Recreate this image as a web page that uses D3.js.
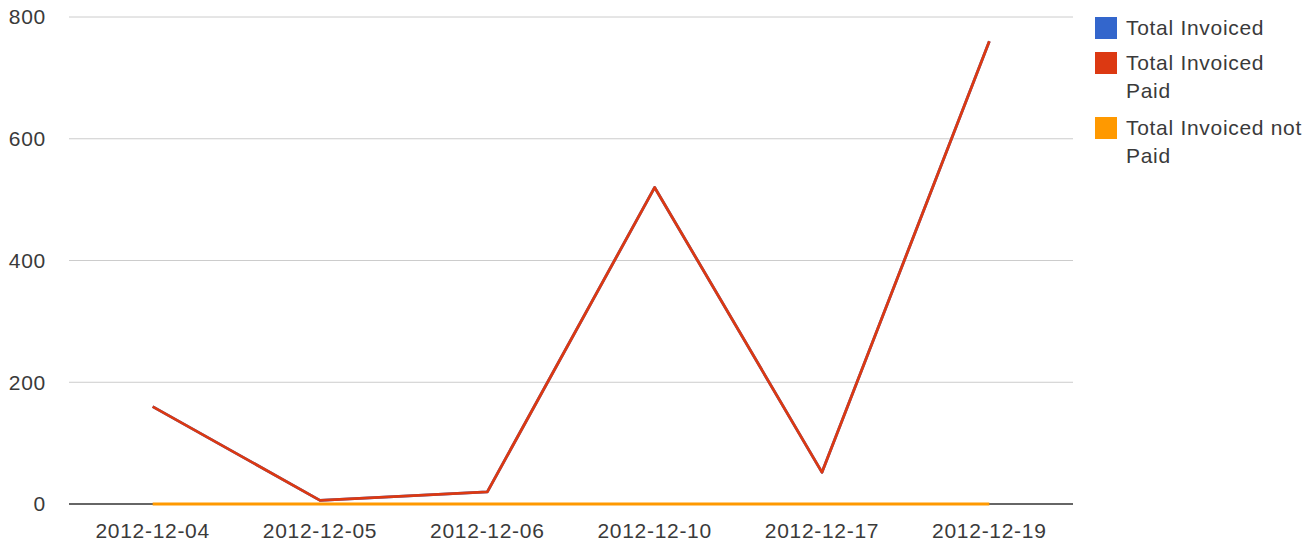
<html>
<head>
<style>
body { margin: 0; background-color: white; }
text { font-family: "Liberation Sans", Arial, sans-serif; fill: #3a3a3a; letter-spacing: 0.7px; }
.grid line { stroke: #cccccc; }
</style>
<script src="https://d3js.org/d3.v7.min.js"></script>
</head>
<body>
<svg id="chart" width="1316" height="544"></svg>
<script>
// data
var dates = ["2012-12-04", "2012-12-05", "2012-12-06", "2012-12-10", "2012-12-17", "2012-12-19"];
var totalInvoiced = [160, 6, 20, 520, 52, 760];
var totalPaid = [160, 6, 20, 520, 52, 760];
var totalNotPaid = [0, 0, 0, 0, 0, 0];
var yTicks = [0, 200, 400, 600, 800];
var seriesNames = ["Total Invoiced", "Total Invoiced\nPaid", "Total Invoiced not\nPaid"];
var seriesColors = ["#3366cc", "#dc3912", "#ff9900"];

var svg = d3.select("#chart");
var plotLeft = 69, plotRight = 1073, plotTop = 17, plotBottom = 504;

var x = d3.scalePoint().domain(dates).range([plotLeft, plotRight]).padding(0.5);
var y = d3.scaleLinear().domain([0, 800]).range([plotBottom, plotTop]);

// gridlines
svg.append("g").attr("class", "grid")
  .selectAll("line").data(yTicks.filter(function(d) { return d > 0; }))
  .enter().append("line")
  .attr("x1", plotLeft).attr("x2", plotRight)
  .attr("y1", function(d) { return y(d); })
  .attr("y2", function(d) { return y(d); });

// baseline
svg.append("line")
  .attr("x1", plotLeft).attr("x2", plotRight)
  .attr("y1", y(0)).attr("y2", y(0))
  .attr("stroke", "#333").attr("stroke-width", 1.3);

// y labels
svg.append("g").selectAll("text").data(yTicks).enter().append("text")
  .attr("x", 46).attr("y", function(d) { return y(d); })
  .attr("dy", "0.35em")
  .attr("text-anchor", "end")
  .style("font-size", "21px")
  .text(function(d) { return d; });

// x labels
svg.append("g").selectAll("text").data(dates).enter().append("text")
  .attr("x", function(d) { return x(d); })
  .attr("y", 538)
  .attr("text-anchor", "middle")
  .style("font-size", "21px")
  .text(function(d) { return d; });

var line = d3.line()
  .x(function(d, i) { return x(dates[i]); })
  .y(function(d) { return y(d); });

[totalInvoiced, totalPaid, totalNotPaid].forEach(function(s, i) {
  svg.append("path")
    .datum(s)
    .attr("fill", "none")
    .attr("stroke", seriesColors[i])
    .attr("stroke-width", 2.8)
    .attr("stroke-linejoin", "round")
    .attr("d", line);
});

// legend
var legY = [17, 52, 117];
seriesNames.forEach(function(name, i) {
  var g = svg.append("g");
  g.append("rect")
    .attr("x", 1095).attr("y", legY[i])
    .attr("width", 22).attr("height", 22)
    .attr("fill", seriesColors[i]);
  var t = g.append("text")
    .attr("x", 1126).attr("y", legY[i] + 18)
    .style("font-size", "21px");
  name.split("\n").forEach(function(part, j) {
    t.append("tspan").attr("x", 1126).attr("dy", j == 0 ? 0 : 28).text(part);
  });
});
</script>
</body>
</html>
